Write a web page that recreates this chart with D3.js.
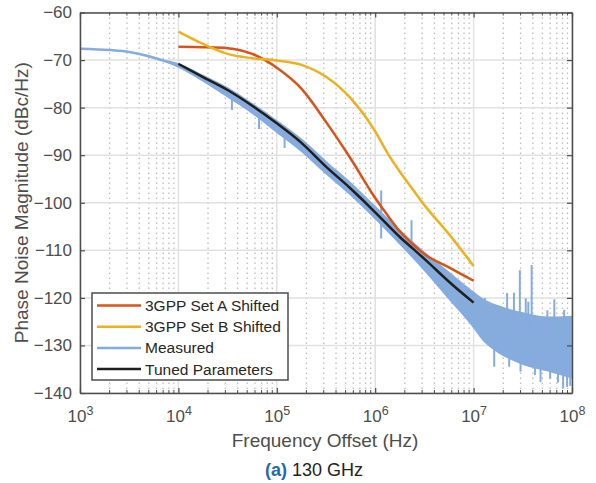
<!DOCTYPE html>
<html>
<head>
<meta charset="utf-8">
<script src="https://cdn.jsdelivr.net/npm/d3@7"></script>
<style>
  body { margin: 0; background: #fff; }
  svg text { font-family: "Liberation Sans", Arial, sans-serif; }
</style>
</head>
<body>
<div id="chart"></div>
<script>
// frequencies (Hz) for the model curves
const modelFreq = [1e4, 1.78e4, 3.16e4, 5.62e4, 1e5, 1.78e5, 3.16e5, 5.62e5, 1e6, 1.33e6, 1.78e6, 2.37e6, 3.16e6, 5.62e6, 1e7];
const setA  = [-67.2, -67.3, -67.5, -68.7, -71.6, -76.0, -83.0, -90.7, -99.0, -102.6, -106.0, -108.6, -110.8, -113.6, -116.4];
const setB  = [-64.0, -66.6, -68.7, -69.6, -70.1, -71.0, -73.5, -78.0, -85.0, -89.5, -93.5, -97.0, -100.5, -106.6, -113.3];
const tuned = [-70.8, -73.6, -76.3, -79.6, -83.3, -87.4, -92.4, -97.0, -102.0, -104.6, -107.2, -109.5, -111.8, -116.6, -121.0];

// measured trace: single line below 10 kHz, then a noise band (upper / lower edges)
const measFreq  = [1e3, 2e3, 3.16e3, 5e3, 7e3, 1e4, 1.78e4, 3.16e4, 5.62e4, 1e5, 1.78e5, 3.16e5, 5.62e5, 1e6, 1.78e6, 3.16e6, 5.62e6, 1e7, 1.26e7, 1.78e7, 3.16e7, 5.62e7, 1e8];
const measUpper = [-67.6, -67.9, -68.3, -69.2, -70.1, -70.9, -73.4, -76.0, -79.3, -82.9, -86.8, -91.5, -96.0, -101.0, -106.0, -110.6, -114.8, -119.0, -120.5, -121.8, -123.3, -124.2, -124.0];
const measLower = [-67.6, -67.9, -68.3, -69.2, -70.1, -71.3, -74.3, -77.6, -81.0, -85.0, -89.0, -93.7, -98.2, -103.2, -108.5, -114.0, -120.0, -126.0, -128.8, -131.3, -133.8, -135.2, -136.7];
// isolated spurs in the measurement: [freq, top, bottom]
const spurs = [
  [3.5e4, -77.0, -80.5], [6.6e4, -80.5, -84.5], [1.2e5, -84.5, -88.5],
  [1.15e6, -97.4, -107.5], [2.34e6, -103.7, -109.3],
  [1.3e7, -120, -123], [1.62e7, -128, -134.5], [2.19e7, -119, -126],
  [2.57e7, -118.9, -126], [2.95e7, -114.2, -126], [3.39e7, -120.1, -127],
  [3.6e7, -120.8, -127], [3.89e7, -113.1, -127], [4.79e7, -130, -137.7],
  [5.62e7, -122.6, -128], [6.61e7, -120.3, -128], [8.13e7, -130, -139],
  [8.32e7, -122.5, -130], [8.91e7, -130, -138.7],
  [2.3e7, -130.5, -134.5], [3.0e7, -131, -135.5], [4.2e7, -132, -136.2],
  [6.0e7, -133, -137], [7.2e7, -133.5, -137.8], [9.6e7, -134, -138.5]
];

const xTicks = [1e3, 1e4, 1e5, 1e6, 1e7, 1e8];
const yTicks = [-140, -130, -120, -110, -100, -90, -80, -70, -60];
const legendNames = ["3GPP Set A Shifted", "3GPP Set B Shifted", "Measured", "Tuned Parameters"];
const colors = ["#D95319", "#EDB120", "#86ABDD", "#1f1f1f"];

const width = 596, height = 483;
const margin = { top: 12.5, right: 24, bottom: 90, left: 80 };

const svg = d3.select("#chart").append("svg")
  .attr("width", width)
  .attr("height", height);

const x = d3.scaleLog().domain([1e3, 1e8]).range([margin.left, width - margin.right]);
const y = d3.scaleLinear().domain([-140, -60]).range([height - margin.bottom, margin.top]);

// minor ticks 2..9 per decade
const minor = [];
for (let d = 3; d < 8; d++) for (let m = 2; m <= 9; m++) minor.push(m * Math.pow(10, d));

// grid
const grid = svg.append("g");
grid.selectAll(".vmin").data(minor).enter().append("line")
  .attr("x1", d => x(d)).attr("x2", d => x(d))
  .attr("y1", y(-60)).attr("y2", y(-140))
  .attr("stroke", "#bdbdbd").attr("stroke-width", 1.3)
  .attr("stroke-dasharray", "1.5,3.5");
grid.selectAll(".vmaj").data(xTicks).enter().append("line")
  .attr("x1", d => x(d)).attr("x2", d => x(d))
  .attr("y1", y(-60)).attr("y2", y(-140))
  .attr("stroke", "#e1e1e1").attr("stroke-width", 1.5);
grid.selectAll(".hmaj").data(yTicks).enter().append("line")
  .attr("x1", x(1e3)).attr("x2", x(1e8))
  .attr("y1", d => y(d)).attr("y2", d => y(d))
  .attr("stroke", "#e1e1e1").attr("stroke-width", 1.5);

svg.append("clipPath").attr("id", "clip").append("rect")
  .attr("x", x(1e3)).attr("y", y(-60))
  .attr("width", x(1e8) - x(1e3)).attr("height", y(-140) - y(-60));

const plot = svg.append("g").attr("clip-path", "url(#clip)");

// measured band
const meas = measFreq.map((f, i) => ({ f, hi: measUpper[i], lo: measLower[i] }));
plot.append("path")
  .datum(meas)
  .attr("fill", colors[2])
  .attr("stroke", colors[2])
  .attr("stroke-width", 2.5)
  .attr("stroke-linejoin", "round")
  .attr("d", d3.area()
    .x(d => x(d.f))
    .y0(d => y(d.lo))
    .y1(d => y(d.hi))
    .curve(d3.curveMonotoneX));

plot.selectAll(".spur").data(spurs).enter().append("line")
  .attr("x1", d => x(d[0])).attr("x2", d => x(d[0]))
  .attr("y1", d => y(d[1])).attr("y2", d => y(d[2]))
  .attr("stroke", colors[2]).attr("stroke-width", 2);

// model curves
const line = d3.line()
  .x(d => x(d[0]))
  .y(d => y(d[1]))
  .curve(d3.curveMonotoneX);

[[setA, colors[0]], [setB, colors[1]], [tuned, colors[3]]].forEach(([vals, c]) => {
  plot.append("path")
    .datum(modelFreq.map((f, i) => [f, vals[i]]))
    .attr("fill", "none")
    .attr("stroke", c)
    .attr("stroke-width", 2.5)
    .attr("d", line);
});

// axes
const axisColor = "#4d4d4d";
const textColor = "#4d4d4d";

const xAxis = svg.append("g")
  .attr("transform", `translate(0,${y(-140)})`)
  .call(d3.axisBottom(x).tickValues(xTicks).tickSizeInner(-5).tickSizeOuter(0).tickFormat(d => ""));
xAxis.selectAll(".tick text").each(function (d) {
  const t = d3.select(this);
  t.append("tspan").text("10");
  t.append("tspan").attr("dy", "-0.55em").attr("font-size", "12.5px").text(Math.round(Math.log10(d)));
});
xAxis.selectAll(".tick text").attr("font-size", "17px").attr("fill", textColor).attr("y", 17);

svg.append("g")
  .attr("transform", `translate(0,${y(-140)})`)
  .selectAll("line").data(minor).enter().append("line")
  .attr("x1", d => x(d)).attr("x2", d => x(d))
  .attr("y1", 0).attr("y2", -3)
  .attr("stroke", axisColor).attr("stroke-width", 1);
svg.append("g")
  .attr("transform", `translate(0,${y(-60)})`)
  .selectAll("line").data(minor).enter().append("line")
  .attr("x1", d => x(d)).attr("x2", d => x(d))
  .attr("y1", 0).attr("y2", 3)
  .attr("stroke", axisColor).attr("stroke-width", 1);

svg.append("g")
  .attr("transform", `translate(0,${y(-60)})`)
  .call(d3.axisTop(x).tickValues(xTicks).tickSizeInner(-5).tickSizeOuter(0).tickFormat(""));

const yAxis = svg.append("g")
  .attr("transform", `translate(${x(1e3)},0)`)
  .call(d3.axisLeft(y).tickValues(yTicks).tickSizeInner(-5).tickSizeOuter(0).tickPadding(8));
yAxis.selectAll("text").attr("font-size", "17px").attr("fill", textColor);

svg.append("g")
  .attr("transform", `translate(${x(1e8)},0)`)
  .call(d3.axisRight(y).tickValues(yTicks).tickSizeInner(-5).tickSizeOuter(0).tickFormat(""));

svg.selectAll(".domain").attr("stroke", axisColor).attr("stroke-width", 1.5);
svg.selectAll(".tick line").attr("stroke", axisColor).attr("stroke-width", 1.2);

// legend
const lg = svg.append("g").attr("transform", "translate(92,293)");
lg.append("rect")
  .attr("width", 196).attr("height", 87)
  .attr("fill", "#fff").attr("stroke", axisColor).attr("stroke-width", 1.5);
legendNames.forEach((name, i) => {
  const yy = 12.5 + i * 21.2;
  lg.append("line")
    .attr("x1", 5).attr("x2", 49).attr("y1", yy).attr("y2", yy)
    .attr("stroke", colors[i]).attr("stroke-width", 2.5);
  lg.append("text")
    .attr("x", 53).attr("y", yy + 5.5)
    .attr("font-size", "15.5px").attr("fill", "#262626")
    .text(name);
});

// labels
svg.append("text")
  .attr("x", 325).attr("y", 447)
  .attr("text-anchor", "middle")
  .attr("font-size", "19px").attr("fill", textColor)
  .text("Frequency Offset (Hz)");

svg.append("text")
  .attr("transform", `translate(28,${(y(-60) + y(-140)) / 2}) rotate(-90)`)
  .attr("text-anchor", "middle")
  .attr("font-size", "19px").attr("fill", textColor)
  .text("Phase Noise Magnitude (dBc/Hz)");

const title = svg.append("text")
  .attr("x", 314).attr("y", 476)
  .attr("text-anchor", "middle")
  .attr("font-size", "18px");
title.append("tspan").attr("font-weight", "bold").attr("fill", "#1f6aa8").text("(a)");
title.append("tspan").attr("fill", "#222").text(" 130 GHz");
</script>
</body>
</html>
